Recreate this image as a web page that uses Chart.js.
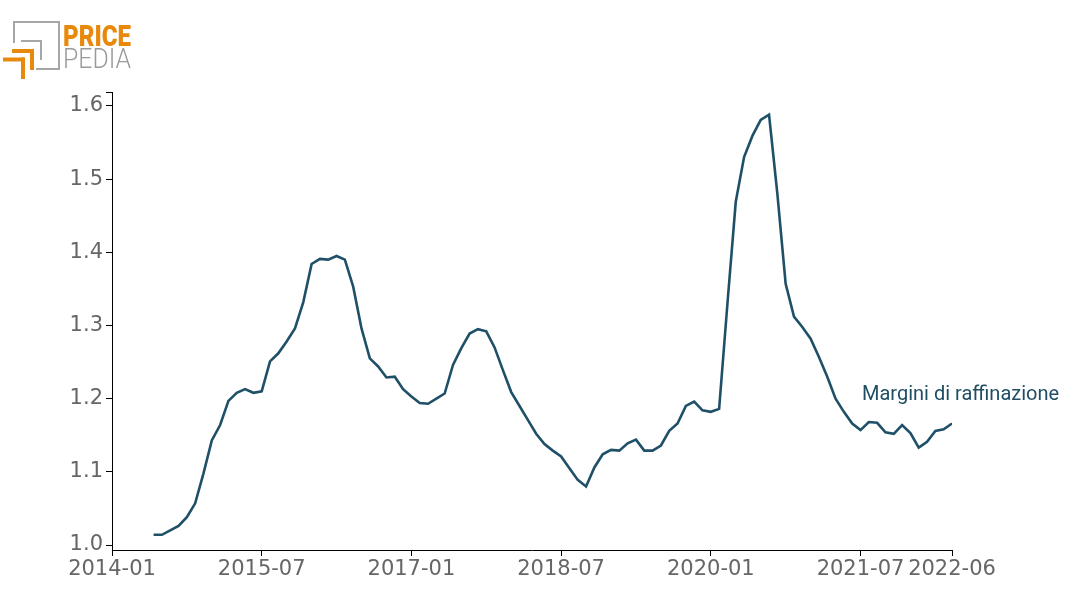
<!DOCTYPE html>
<html lang="it">
<head>
  <meta charset="UTF-8">
  <title>Margini di raffinazione</title>
  <script src="https://cdn.jsdelivr.net/npm/chart.js"></script>
  <style>
    body {
      margin: 0;
      padding: 0;
      background: #fff;
    }

    .wrap {
      position: relative;
      width: 1086px;
      height: 596px;
    }

    .logo {
      position: absolute;
      left: 0;
      top: 0;
    }
  </style>
</head>
<body>
  <div class="wrap">
    <canvas id="marginChart"></canvas>
    <svg class="logo" width="140" height="90" viewBox="0 0 140 90">
      <polyline points="14,43 14,22 59,22 59,69 36,69" fill="none" stroke="#a6a6a6" stroke-width="2"/>
      <polyline points="21,41 41,41 41,60" fill="none" stroke="#a6a6a6" stroke-width="2"/>
      <rect x="12" y="49" width="22" height="4" fill="#e8890c"/>
      <rect x="30" y="49" width="4" height="21" fill="#e8890c"/>
      <rect x="3" y="57.5" width="22" height="4" fill="#e8890c"/>
      <rect x="21" y="57.5" width="4" height="21.5" fill="#e8890c"/>
      <text x="63" y="46" font-family="Roboto" font-weight="900" font-size="29" fill="#e8890c"
            textLength="68" lengthAdjust="spacingAndGlyphs">PRICE</text>
      <text x="63" y="68" font-family="Roboto" font-weight="300" font-size="28" fill="#9a9a9a"
            textLength="68" lengthAdjust="spacingAndGlyphs">PEDIA</text>
    </svg>
  </div>
  <script>
    // monthly series, starting 2014-06
    const startMonth = "2014-06";
    const margins = [
      1.014, 1.014, 1.020, 1.026, 1.038, 1.057, 1.098,
      1.143, 1.164, 1.197, 1.208, 1.213, 1.208, 1.210, 1.251, 1.262, 1.278, 1.296, 1.332,
      1.384, 1.391, 1.390, 1.395, 1.390, 1.353, 1.296, 1.255, 1.244, 1.229, 1.230, 1.213,
      1.203, 1.194, 1.193, 1.200, 1.207, 1.246, 1.269, 1.289, 1.295, 1.292, 1.270, 1.239,
      1.209, 1.190, 1.171, 1.152, 1.138, 1.129, 1.121, 1.105, 1.089, 1.080, 1.106, 1.124,
      1.130, 1.129, 1.139, 1.144, 1.129, 1.129, 1.136, 1.156, 1.166, 1.190, 1.196, 1.184,
      1.182, 1.186, 1.330, 1.469, 1.530, 1.559, 1.581, 1.588, 1.480, 1.357, 1.312, 1.298,
      1.282, 1.257, 1.230, 1.200, 1.182, 1.166, 1.157, 1.168, 1.167, 1.154, 1.152, 1.164,
      1.153, 1.133, 1.141, 1.156, 1.158, 1.166
    ];
    const seriesLabel = "Margini di raffinazione";

    const xTickLabels = ["2014-01", "2015-07", "2017-01", "2018-07", "2020-01", "2021-07", "2022-06"];
    const yTickValues = [1.0, 1.1, 1.2, 1.3, 1.4, 1.5, 1.6];
    const yMin = 0.9932;
    const yMax = 1.619;

    // months counted from 2014-01
    function monthIndex(s) {
      const [y, m] = s.split("-").map(Number);
      return (y - 2014) * 12 + (m - 1);
    }

    const start = monthIndex(startMonth);
    const points = margins.map((v, i) => ({ x: start + i, y: v }));
    const xTickPos = xTickLabels.map(monthIndex);

    const seriesLabelPlugin = {
      id: "seriesLabel",
      afterDatasetsDraw(chart) {
        const meta = chart.getDatasetMeta(0);
        const last = meta.data[meta.data.length - 1];
        const ctx = chart.ctx;
        ctx.save();
        ctx.font = "20px Roboto";
        ctx.fillStyle = "#1f4e63";
        ctx.textAlign = "left";
        ctx.textBaseline = "alphabetic";
        ctx.fillText(seriesLabel, last.x - 90, last.y - 24);
        ctx.restore();
      }
    };

    const tickFont = { family: "DejaVu Sans", size: 21 };

    new Chart(document.getElementById("marginChart"), {
      type: "line",
      data: {
        datasets: [{
          label: seriesLabel,
          data: points,
          borderColor: "#1f5068",
          borderWidth: 2.6,
          pointRadius: 0,
          fill: false,
          tension: 0
        }]
      },
      options: {
        responsive: true,
        maintainAspectRatio: false,
        animation: false,
        layout: { padding: { top: 92, right: 134, left: 0, bottom: 0 } },
        plugins: {
          legend: { display: false },
          tooltip: { enabled: false }
        },
        scales: {
          x: {
            type: "linear",
            min: 0,
            max: monthIndex("2022-06"),
            afterBuildTicks(scale) {
              scale.ticks = xTickPos.map(v => ({ value: v }));
            },
            afterFit(scale) {
              scale.height = 46;
            },
            ticks: {
              autoSkip: false,
              maxRotation: 0,
              padding: 1,
              color: "#666",
              font: tickFont,
              callback(value) {
                const i = xTickPos.indexOf(value);
                return i >= 0 ? xTickLabels[i] : "";
              }
            },
            grid: {
              drawOnChartArea: false,
              drawTicks: true,
              tickLength: 6,
              tickColor: "#000"
            },
            border: { display: true, color: "#000", width: 1 }
          },
          y: {
            min: yMin,
            max: yMax,
            afterBuildTicks(scale) {
              scale.ticks = yTickValues.concat([yMax]).map(v => ({ value: v }));
            },
            afterFit(scale) {
              scale.width = 112;
            },
            ticks: {
              autoSkip: false,
              padding: 3,
              color: "#666",
              font: tickFont,
              callback(value) {
                return value === yMax ? "" : value.toFixed(1);
              }
            },
            grid: {
              drawOnChartArea: false,
              drawTicks: true,
              tickLength: 6,
              tickColor: "#000"
            },
            border: { display: true, color: "#000", width: 1 }
          }
        }
      },
      plugins: [seriesLabelPlugin]
    });
  </script>
</body>
</html>
